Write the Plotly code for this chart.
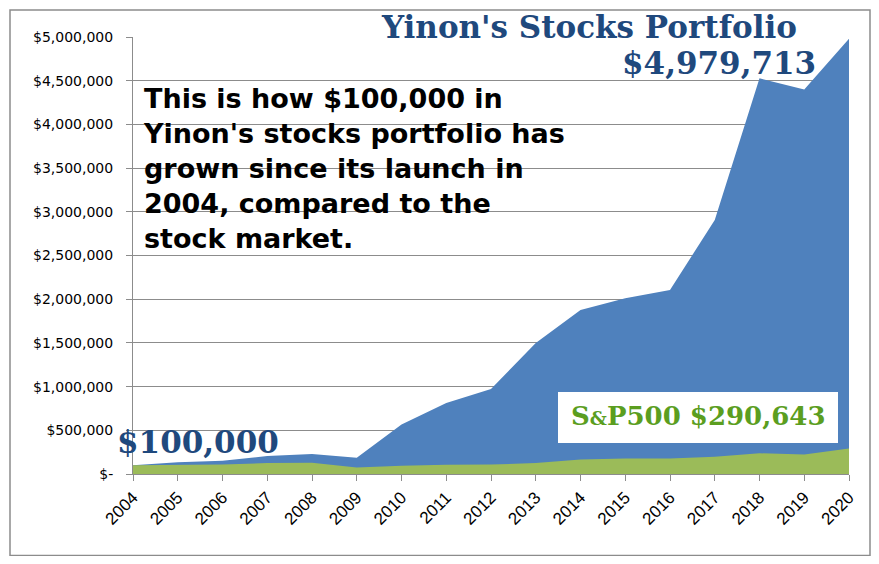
import plotly.graph_objects as go

years = [str(y) for y in range(2004, 2021)]
portfolio = [100000, 134000, 152000, 206000, 229000, 187000, 565000, 812000, 973000,
             1500000, 1876000, 2010000, 2105000, 2906000, 4527000, 4400000, 4979713]
sp500 = [100000, 106000, 110000, 125000, 128000, 75000, 95000, 105000, 108000,
         125000, 165000, 178000, 178000, 198000, 237000, 222000, 290643]
y_ticks = [0, 500000, 1000000, 1500000, 2000000, 2500000, 3000000, 3500000, 4000000, 4500000, 5000000]
y_tick_text = ["$-", "$500,000", "$1,000,000", "$1,500,000", "$2,000,000", "$2,500,000",
               "$3,000,000", "$3,500,000", "$4,000,000", "$4,500,000", "$5,000,000"]

BLUE = "#4F81BD"
GREEN = "#9BBB59"
NAVY = "#1F497D"
GREEN_TXT = "#5B9E1F"
GRID = "#8C8C8C"

# page has an 8px body margin; plot area spans screen x 133..849, y 37..474
OFF = 8
PL, PR, PT, PB = 133, 849, 37, 474
W, H = 879 - 2 * OFF, 564 - 2 * OFF
PW, PH = PR - PL, PB - PT


def px(x):
    return (x - PL) / PW


def py(y):
    return (PB - y) / PH


fig = go.Figure()
fig.add_trace(go.Scatter(x=years, y=portfolio, mode="lines", line=dict(width=0, color=BLUE),
                         fill="tozeroy", fillcolor=BLUE, name="Portfolio", hoverinfo="skip"))
fig.add_trace(go.Scatter(x=years, y=sp500, mode="lines", line=dict(width=0, color=GREEN),
                         fill="tozeroy", fillcolor=GREEN, name="S&P500", hoverinfo="skip"))

fig.update_layout(
    width=W, height=H,
    margin=dict(l=PL - OFF, r=W - (PR - OFF), t=PT - OFF, b=H - (PB - OFF)),
    paper_bgcolor="white", plot_bgcolor="white",
    showlegend=False,
    xaxis=dict(type="category", range=[0, 16], showgrid=False, showline=True, linecolor=GRID,
               linewidth=1, ticks="outside", ticklen=6, tickcolor=GRID, tickangle=-45,
               tickfont=dict(family="Liberation Sans, Arial", size=17, color="black"),
               tickson="labels"),
    yaxis=dict(range=[0, 5000000], tickvals=y_ticks, ticktext=y_tick_text,
               showgrid=True, gridcolor=GRID, gridwidth=1, showline=True, linecolor=GRID,
               ticks="outside", ticklen=6, tickcolor=GRID, zeroline=False, ticklabelstandoff=10,
               tickfont=dict(family="DejaVu Sans, Verdana", size=14, color="black")),
    shapes=[
        dict(type="rect", xref="paper", yref="paper", x0=px(10), x1=px(870), y0=py(555.5), y1=py(10),
             line=dict(color="#8C8C8C", width=1.5), fillcolor="rgba(0,0,0,0)", layer="above"),
        dict(type="rect", xref="paper", yref="paper", x0=px(558), x1=px(838),
             y0=py(443), y1=py(392), line=dict(width=0), fillcolor="white", layer="above"),
    ],
    annotations=[
        dict(text="Yinon's Stocks Portfolio", xref="paper", yref="paper",
             x=px(589), y=py(8), xanchor="center", yanchor="top", showarrow=False,
             borderpad=0,
             font=dict(family="DejaVu Serif", size=31, color=NAVY, weight="bold")),
        dict(text="$4,979,713", xref="paper", yref="paper",
             x=px(818), y=py(63), xanchor="right", yanchor="middle", showarrow=False,
             font=dict(family="DejaVu Serif", size=31, color=NAVY, weight="bold")),
        dict(text="$100,000", xref="paper", yref="paper",
             x=px(115), y=py(442), xanchor="left", yanchor="middle", showarrow=False,
             font=dict(family="DejaVu Serif", size=31, color=NAVY, weight="bold")),
        dict(text="S<span style='font-size:19px'>&amp;</span>P500 $290,643", xref="paper", yref="paper",
             x=px(698), y=py(416), xanchor="center", yanchor="middle", showarrow=False,
             font=dict(family="DejaVu Serif", size=26, color=GREEN_TXT, weight="bold")),
        dict(text="This is how $100,000 in<br>Yinon's stocks portfolio has<br>grown since its launch in<br>2004, compared to the<br>stock market.",
             xref="paper", yref="paper", x=px(141), y=py(81), xanchor="left", yanchor="top",
             align="left", showarrow=False,
             font=dict(family="DejaVu Sans", size=27, color="black", weight="bold")),
    ],
)

fig.write_html("out.html")
